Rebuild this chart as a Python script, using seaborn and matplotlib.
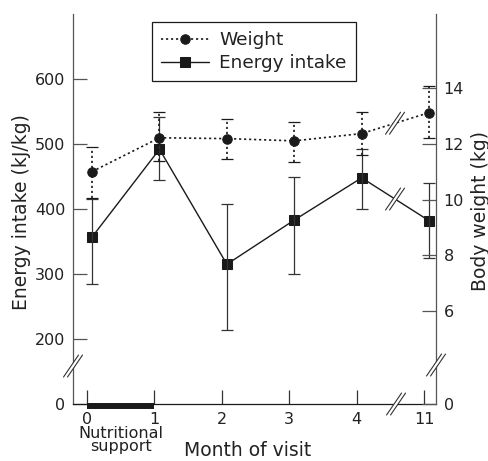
import matplotlib
matplotlib.use('Agg')
import matplotlib.pyplot as plt
from matplotlib.lines import Line2D
from matplotlib.patches import Polygon
from matplotlib.transforms import IdentityTransform, blended_transform_factory, offset_copy
import numpy as np
import pandas as pd
import seaborn as sns

# values (mean, lower and upper end of error bar)
month_labels = ['0', '1', '2', '3', '4', '11']
weight_mean = [11.0, 12.21, 12.18, 12.1, 12.36, 13.11]
weight_low = [10.04, 11.39, 11.46, 11.36, 11.61, 12.21]
weight_high = [11.89, 13.14, 12.89, 12.79, 13.14, 14.07]
energy_mean = [357, 492, 315, 383, 448, 382]
energy_low = [285, 445, 214, 300, 400, 325]
energy_high = [415, 542, 408, 449, 492, 440]
energy_ticks = [200, 300, 400, 500, 600]
weight_ticks = [6, 8, 10, 12, 14]
support_months = ['0', '1']

# broken axes: where the "0" sits on each (axis units)
energy_zero = 100
weight_zero = 2.68

ink = '#1a1a1a'
grey = '#555555'

sns.set_style('ticks')
plt.rcParams['font.family'] = ['DejaVu Sans']
plt.rcParams['text.color'] = '#222222'

pos = np.arange(len(month_labels))
df = pd.DataFrame({
    'pos': pos + 0.075,
    'weight': weight_mean,
    'energy': energy_mean,
})

fig = plt.figure(figsize=(4.88, 4.61), dpi=100)
ax = fig.add_axes([0.1496, 0.1236, 0.7439, 0.846])
ax2 = ax.twinx()

# energy intake (left axis)
sns.lineplot(data=df, x='pos', y='energy', ax=ax, color=ink, marker='s', markersize=6.5,
             markeredgecolor=ink, linewidth=1.0, errorbar=None, legend=False)
e_line = ax.lines[-1]
e_mean = np.array(energy_mean)
ax.errorbar(df.pos, e_mean, yerr=[e_mean - np.array(energy_low), np.array(energy_high) - e_mean],
            fmt='none', ecolor='#333333', elinewidth=0.9, capsize=4.5, capthick=0.9)

# weight (right axis)
dots = (0, (1.3, 1.7))
sns.lineplot(data=df, x='pos', y='weight', ax=ax2, color=ink, marker='o', markersize=6.8,
             markeredgecolor=ink, linewidth=1.2, linestyle=dots, errorbar=None, legend=False)
w_line = ax2.lines[-1]
w_mean = np.array(weight_mean)
eb = ax2.errorbar(df.pos, w_mean, yerr=[w_mean - np.array(weight_low), np.array(weight_high) - w_mean],
                  fmt='none', ecolor=ink, elinewidth=1.2, capsize=4.3, capthick=0.9)
eb[2][0].set_linestyle(dots)

# axes
ax.set_xlim(-0.208, 5.178)
ax.set_ylim(energy_zero, 700)
ax2.set_ylim(weight_zero, 16.64)
ax.set_xticks(pos)
ax.set_xticklabels(month_labels)
ax.set_yticks([energy_zero] + energy_ticks)
ax.set_yticklabels(['0'] + [str(t) for t in energy_ticks])
ax2.set_yticks([weight_zero] + weight_ticks)
ax2.set_yticklabels(['0'] + [str(t) for t in weight_ticks])
ax.set_xlabel('')
ax.set_ylabel('')
ax2.set_ylabel('')

for a in (ax, ax2):
    a.tick_params(direction='in', length=10, width=0.9, color=grey, labelsize=11.5,
                  labelcolor='#222222', pad=5.5)
ax.tick_params(axis='x', color='#333333')
for s in ('top', 'right'):
    ax.spines[s].set_visible(False)
for s in ('top', 'left', 'bottom'):
    ax2.spines[s].set_visible(False)
ax.spines['left'].set_color(grey)
ax.spines['bottom'].set_color(ink)
ax2.spines['right'].set_color(grey)
for sp in (ax.spines['left'], ax.spines['bottom'], ax2.spines['right']):
    sp.set_linewidth(0.9)

# nutritional support period as a thick bar under the x axis
x0, x1 = month_labels.index(support_months[0]), month_labels.index(support_months[1])
ax.plot([x0, x1], [energy_zero, energy_zero], color=ink, lw=4.3, solid_capstyle='butt',
        clip_on=False, transform=offset_copy(ax.transData, fig=fig, y=-1.6, units='points'))

leg = ax2.legend(handles=[w_line, e_line], labels=['Weight', 'Energy intake'], loc='upper left',
                 bbox_to_anchor=(0.2176, 0.979), borderaxespad=0, fontsize=13.3,
                 handlelength=2.6, handletextpad=0.54, borderpad=0.5, labelspacing=0.25,
                 frameon=True, fancybox=False, edgecolor=ink, framealpha=1)
leg.get_frame().set_linewidth(0.9)


def add_break(trans, x, y, dx=7.5, dy=11, gap=4):
    cx, cy = trans.transform((x, y))
    poly = Polygon([(cx - gap / 2 - dx, cy - dy), (cx - gap / 2 + dx, cy + dy),
                    (cx + gap / 2 + dx, cy + dy), (cx + gap / 2 - dx, cy - dy)],
                   closed=True, facecolor='white', edgecolor='none', zorder=5)
    poly.set_transform(IdentityTransform())
    fig.add_artist(poly)
    for o in (-gap / 2, gap / 2):
        ln = Line2D([cx + o - dx, cx + o + dx], [cy - dy, cy + dy], color='#333333', lw=0.8, zorder=6)
        ln.set_transform(IdentityTransform())
        fig.add_artist(ln)


break_x = 4.57
add_break(ax.transAxes, 0, 0.0974)
add_break(ax.transAxes, 1, 0.1)
add_break(blended_transform_factory(ax.transData, ax.transAxes), 4.585, 0)
add_break(ax.transData, break_x, np.interp(break_x, df.pos, df.energy))
add_break(ax2.transData, break_x, np.interp(break_x, df.pos, df.weight))

# labels
fig.text(22 / 488, 1 - 212 / 461, 'Energy intake (kJ/kg)', rotation=90, ha='center', va='center',
         fontsize=13.5)
fig.text(480 / 488, 1 - 211 / 461, 'Body weight (kg)', rotation=90, ha='center', va='center',
         fontsize=13.5)
fig.text(248 / 488, 1 - 456 / 461, 'Month of visit', ha='center', va='baseline', fontsize=13.5)
ax.text((x0 + x1) / 2, 1 - 426 / 461, 'Nutritional\nsupport', ha='center', va='top', fontsize=11.5,
        linespacing=0.85, transform=blended_transform_factory(ax.transData, fig.transFigure))

fig.savefig('out.png', dpi=100)
